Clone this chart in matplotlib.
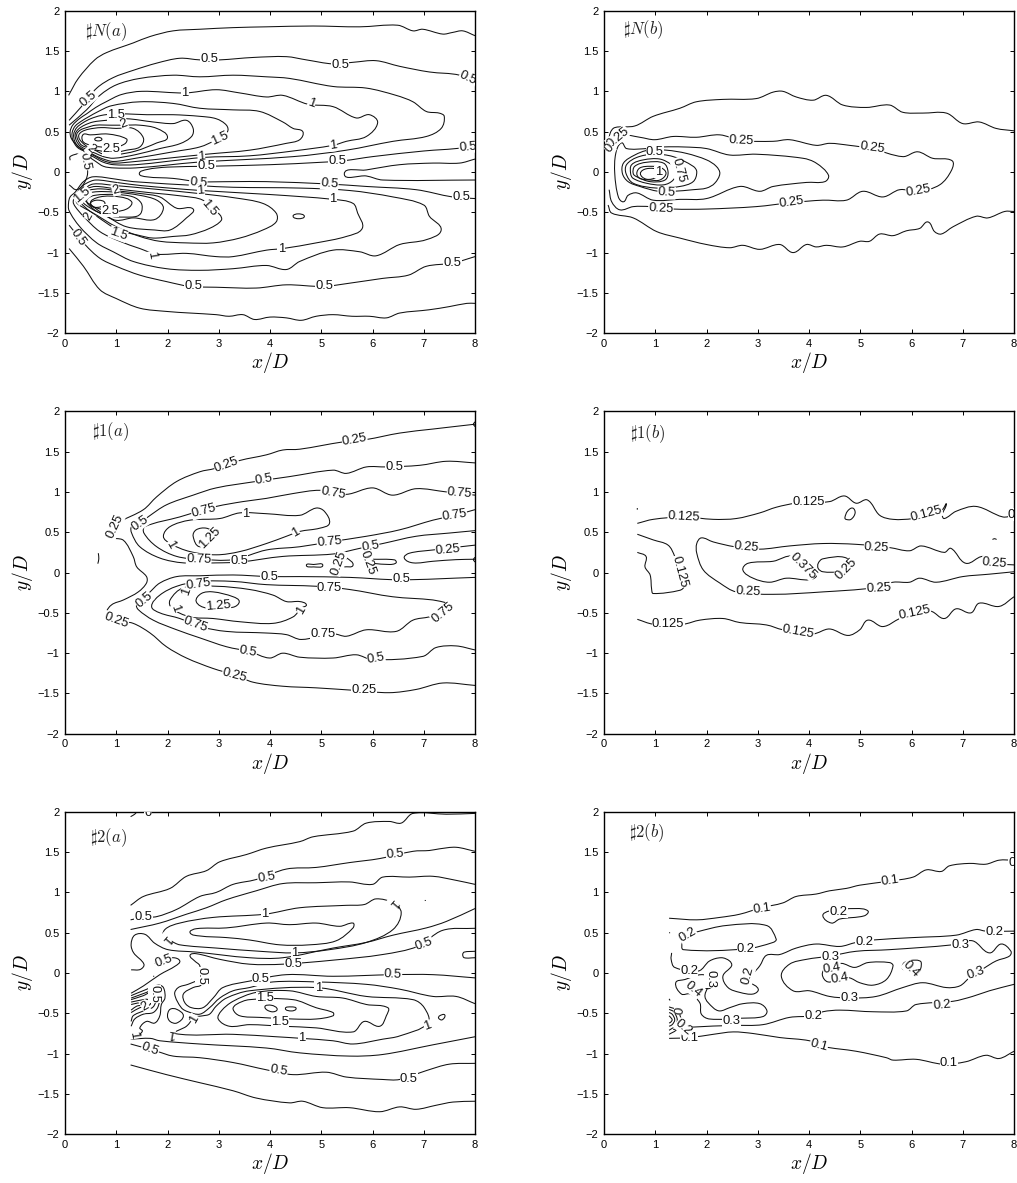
import matplotlib
matplotlib.use('Agg')
import matplotlib.pyplot as plt
from matplotlib.path import Path
from matplotlib.patches import PathPatch
import numpy as np

plt.rcParams['font.family'] = ['Liberation Sans', 'DejaVu Sans']
plt.rcParams['mathtext.fontset'] = 'cm'

X_TICKS = [0, 1, 2, 3, 4, 5, 6, 7, 8]
Y_TICKS = [-2, -1.5, -1, -0.5, 0, 0.5, 1, 1.5, 2]
Y_TICK_LABELS = ['\u22122', '\u22121.5', '\u22121', '\u22120.5', '0', '0.5', '1', '1.5', '2']

# ---- #N(a) contours as (x/D, y/D)
na_25_top = [(.07,.95),(.26,1.16),(.58,1.39),(.81,1.48),(1.33,1.6),(1.66,1.68),(2.11,1.75),(2.63,1.77),(3.28,1.79),(3.93,1.8),(4.84,1.81),(5.75,1.8),(6.49,1.82),(6.79,1.75),(6.98,1.77),(7.37,1.71),(7.56,1.73),(7.76,1.75),(8,1.69)]
na_25_bot = [(.08,-.95),(.36,-1.17),(.68,-1.46),(1,-1.57),(1.46,-1.69),(1.98,-1.73),(2.44,-1.75),(2.95,-1.77),(3.2,-1.79),(3.47,-1.77),(3.7,-1.83),(4,-1.8),(4.32,-1.81),(4.61,-1.84),(4.9,-1.79),(5.23,-1.77),(5.6,-1.79),(5.94,-1.79),(6.27,-1.81),(6.53,-1.75),(7.1,-1.71),(7.5,-1.67),(7.84,-1.63),(8,-1.63)]
na_50_top = [(.08,.64),(.32,.81),(.62,1.04),(.94,1.17),(1.33,1.26),(1.79,1.35),(2.24,1.41),(2.63,1.39),(3.02,1.39),(3.67,1.42),(4.32,1.43),(4.71,1.39),(5.23,1.34),(5.62,1.36),(6.07,1.38),(6.53,1.31),(7.11,1.24),(7.7,1.2),(8,1.1)]
na_50_bot = [(.08,-.66),(.39,-.9),(.68,-1.07),(1,-1.17),(1.46,-1.28),(1.98,-1.36),(2.44,-1.42),(2.95,-1.43),(3.73,-1.44),(4.32,-1.4),(5.03,-1.42),(5.55,-1.38),(6.2,-1.32),(6.7,-1.28),(7.05,-1.17),(7.57,-1.13),(8,-1.05)]
na_50_mid = [(8,.355),(7.75,.3),(7,.26),(6,.19),(5.45,.14),(5,.12),(4,.09),(2.76,.07),(2,.06),(1.6,.03),(1.45,-.02),(1.59,-.06),(2.11,-.08),(2.6,-.12),(3.28,-.12),(3.93,-.12),(5.16,-.15),(5.88,-.18),(6.85,-.22),(7.56,-.31),(8,-.33)]
na_tongue = [(8,.16),(7.7,.11),(7.18,.11),(6.53,.09),(5.88,.025),(5.45,-.025),(5.88,-.05),(6.2,-.1),(8,-.1)]
na_75_up = [(.08,.58),(.42,.77),(.68,.95),(1,1.08),(1.46,1.16),(2.11,1.2),(2.63,1.18),(3.28,1.2),(3.93,1.18),(4.38,1.16),(5.23,1.06),(5.88,1.04),(6.46,.95),(6.79,.87),(7.05,.75),(7.3,.73),(7.4,.69),(7.34,.54),(7.05,.44),(6.4,.38),(5.49,.27),(4.45,.19),(2.56,.12),(2,.085),(1.38,.05),(.95,.05),(.75,.07),(.6,.13),(.45,.2),(.33,.29)]
na_100_up = [(.22,.34),(.12,.42),(.1,.5),(.15,.58),(.28,.66),(.42,.72),(.6,.8),(.8,.87),(1.1,.96),(1.5,1),(2.34,.98),(2.95,1.02),(3.41,.98),(3.93,.93),(4.25,.95),(4.74,.84),(5.23,.81),(5.68,.67),(5.94,.71),(6.1,.61),(5.88,.44),(5.49,.38),(5.23,.33),(4.45,.26),(3.6,.2),(2.7,.18),(1.98,.13),(1.38,.09),(.95,.09),(.75,.12),(.6,.17),(.45,.23),(.22,.34)]
na_125_up = [(.25,.3),(.15,.4),(.14,.49),(.2,.57),(.32,.63),(.45,.68),(.65,.75),(.9,.82),(1.46,.87),(2.11,.85),(2.63,.79),(3.28,.77),(3.8,.75),(4.25,.62),(4.45,.54),(4.64,.5),(4.58,.4),(4.32,.355),(3.6,.27),(2.76,.22),(2,.17),(1.38,.13),(.95,.11),(.75,.14),(.6,.19),(.45,.24),(.25,.3)]
na_150_up = [(.28,.3),(.19,.38),(.17,.47),(.23,.55),(.35,.61),(.5,.66),(.7,.7),(.95,.72),(1.2,.72),(1.6,.71),(2.11,.71),(2.63,.69),(2.95,.66),(3.15,.58),(3.17,.5),(2.95,.4),(2.63,.31),(2.11,.25),(1.38,.17),(.95,.13),(.75,.16),(.6,.2),(.45,.25),(.28,.3)]
na_175_up = [(.3,.32),(.22,.39),(.2,.47),(.26,.53),(.38,.58),(.55,.62),(.8,.64),(1.2,.66),(1.72,.62),(2.11,.6),(2.37,.64),(2.5,.54),(2.47,.44),(2.24,.35),(1.85,.29),(1.38,.215),(.95,.17),(.75,.19),(.6,.23),(.45,.27),(.3,.32)]
na_200_up = [(.33,.33),(.25,.4),(.23,.47),(.3,.52),(.42,.55),(.6,.58),(.9,.58),(1.14,.58),(1.46,.58),(1.79,.54),(2,.43),(1.79,.36),(1.38,.26),(.95,.21),(.75,.22),(.55,.28),(.33,.33)]
na_225_up = [(.36,.35),(.28,.41),(.27,.46),(.33,.5),(.46,.53),(.7,.55),(1,.54),(1.33,.54),(1.53,.42),(1.46,.31),(1.2,.27),(.95,.24),(.7,.26),(.5,.29),(.36,.35)]
na_250_up = [(.36,.37),(.33,.43),(.37,.47),(.49,.46),(.84,.47),(1.2,.41),(1.17,.35),(.94,.3),(.7,.31),(.5,.33),(.36,.37)]
na_275_up = [(.58,.405),(.65,.43),(.72,.405),(.65,.385),(.58,.405)]
na_gap_a = [(.26,.23),(.1,.19),(.1,.145)]
na_gap_b = [(.32,.21),(.44,.02),(.39,-.12),(.23,-.22),(.08,-.16)]
na_75_lo = [(7,-.41),(6.4,-.31),(5.55,-.23),(4.58,-.2),(3.28,-.19),(2.63,-.17),(1.33,-.12),(1,-.09),(.55,-.06),(.36,-.12),(.2,-.25),(.1,-.31),(.07,-.38),(.08,-.48),(.29,-.68),(.62,-.88),(.94,-.99),(1.33,-1.11),(1.98,-1.2),(2.63,-1.22),(3.28,-1.2),(3.93,-1.16),(4.32,-1.21),(4.58,-1.11),(5.23,-.97),(5.75,-.99),(6.07,-1.04),(6.53,-.9),(7.05,-.84),(7.34,-.72),(7.11,-.55),(7,-.41)]
na_100_lo = [(5.23,-.34),(5.62,-.39),(5.71,-.51),(5.8,-.7),(5.49,-.8),(4.9,-.88),(4.25,-.95),(3.93,-.97),(3.28,-1.05),(2.95,-1.05),(2.37,-1.01),(1.79,-1.02),(1.46,-.95),(1.07,-.86),(.68,-.74),(.36,-.55),(.2,-.43),(.16,-.37),(.2,-.3),(.3,-.2),(.42,-.14),(.6,-.1),(1,-.13),(1.5,-.17),(2.65,-.23),(4,-.28),(5.23,-.34)]
na_125_lo = [(3.86,-.39),(4.12,-.51),(4.12,-.62),(3.86,-.72),(3.41,-.82),(2.89,-.88),(2.37,-.88),(1.85,-.86),(1.46,-.8),(1,-.68),(.55,-.51),(.3,-.42),(.22,-.37),(.26,-.29),(.36,-.22),(.55,-.15),(1,-.17),(1.7,-.21),(2.65,-.27),(3.3,-.32),(3.86,-.39)]
na_150_lo = [(2.69,-.35),(3.02,-.53),(3.05,-.6),(2.82,-.7),(2.44,-.78),(2.11,-.8),(1.72,-.82),(1.4,-.78),(1.04,-.72),(.62,-.55),(.38,-.43),(.28,-.35),(.32,-.27),(.42,-.21),(.6,-.18),(1,-.21),(1.7,-.26),(2.3,-.3),(2.69,-.35)]
na_175_lo = [(1.85,-.31),(2.18,-.45),(2.5,-.46),(2.37,-.57),(2.05,-.72),(1.75,-.72),(1.2,-.68),(.81,-.55),(.5,-.45),(.33,-.36),(.36,-.29),(.46,-.23),(.7,-.21),(1.1,-.24),(1.5,-.27),(1.85,-.31)]
na_200_lo = [(.97,-.25),(1.46,-.29),(1.79,-.35),(1.92,-.45),(1.75,-.59),(1.33,-.57),(1,-.6),(.75,-.52),(.55,-.43),(.39,-.35),(.41,-.3),(.55,-.25),(.97,-.25)]
na_225_lo = [(1,-.28),(1.33,-.31),(1.49,-.39),(1.49,-.5),(1.4,-.55),(1.15,-.56),(.9,-.55),(.65,-.5),(.45,-.4),(.43,-.34),(.58,-.29),(1,-.28)]
na_250_lo = [(.68,-.31),(1.07,-.31),(1.3,-.37),(1.23,-.45),(1,-.49),(.75,-.47),(.5,-.39),(.68,-.31)]
na_275_lo = [(.49,-.4),(.62,-.35),(.78,-.39),(.62,-.44),(.49,-.4)]
na_oval = [(4.45,-.55),(4.55,-.52),(4.67,-.55),(4.56,-.58),(4.45,-.55)]
na_labels = [(2.82,1.4,'0.5',0),(5.37,1.33,'0.5',0),(7.86,1.16,'0.5',-25),(.45,.91,'0.5',40),(2.34,.98,'1',0),(4.81,.85,'1',-20),(1,.71,'1.5',0),(1.15,.6,'2',20),(.91,.28,'2.5',0),(3.02,.42,'1.5',25),(2.66,.19,'1',5),(2.76,.07,'0.5',0),(5.23,.33,'1',8),(5.32,.13,'0.5',0),(7.86,.31,'0.5',5),(2.6,-.13,'0.5',-5),(5.16,-.15,'0.5',-5),(7.73,-.31,'0.5',0),(2.65,-.23,'1',5),(5.23,-.34,'1',0),(2.82,-.45,'1.5',-50),(.99,-.22,'2',15),(.88,-.48,'2.5',0),(.47,-.55,'2',60),(1.04,-.77,'1.5',-20),(1.69,-1.03,'1',-80),(4.22,-.95,'1',0),(.26,-.82,'0.5',-55),(2.51,-1.42,'0.5',0),(5.06,-1.42,'0.5',0),(7.56,-1.13,'0.5',0),(.39,.13,'0.5',-80),(.5,.29,'2',-40),(.34,-.29,'1.5',40)]

# ---- #N(b)
nb_out_top = [(.08,.31),(.12,.48),(.21,.55),(.6,.57),(.96,.69),(1.48,.79),(1.8,.87),(2.32,.9),(2.97,.91),(3.3,.99),(3.49,1),(3.75,.93),(4.08,.89),(4.34,.95),(4.66,.83),(5.12,.8),(5.57,.83),(5.83,.74),(6.22,.73),(6.68,.73),(7,.6),(7.32,.62),(7.65,.54),(8,.51)]
nb_out_bot = [(.08,-.41),(.15,-.51),(.57,-.57),(1.03,-.74),(1.48,-.82),(2,-.9),(2.45,-.94),(2.71,-.91),(3.04,-.96),(3.43,-.9),(3.69,-1),(3.95,-.9),(4.14,-.93),(4.34,-.91),(4.66,-.93),(4.99,-.86),(5.18,-.86),(5.38,-.77),(5.64,-.79),(5.9,-.73),(6.16,-.7),(6.32,-.62),(6.45,-.74),(6.58,-.77),(6.81,-.68),(7.26,-.55),(7.49,-.57),(7.82,-.49),(8,-.49)]
nb_25 = [(.08,.36),(.31,.46),(.7,.43),(.99,.4),(1.35,.44),(1.8,.43),(2.26,.46),(2.68,.39),(3.3,.38),(3.62,.4),(4.14,.33),(4.4,.355),(4.79,.33),(5.22,.29),(5.83,.19),(6.12,.25),(6.41,.17),(6.79,.14),(6.78,.02),(6.55,-.16),(6.14,-.24),(5.77,-.22),(5.44,-.31),(5.05,-.24),(4.73,-.35),(4.27,-.35),(3.66,-.38),(2.97,-.43),(2,-.46),(1.35,-.46),(.9,-.43),(.57,-.43),(.31,-.47),(.15,-.37),(.1,-.22)]
nb_375 = [(.21,-.02),(.23,.23),(.34,.36),(.44,.29),(.83,.29),(1.16,.31),(1.55,.31),(2,.29),(2.45,.21),(2.97,.22),(3.88,.17),(4.14,.11),(4.38,-.04),(4.31,-.12),(3.95,-.13),(3.3,-.18),(3.04,-.24),(2.65,-.18),(2,-.33),(1.48,-.34),(.96,-.35),(.64,-.26),(.47,-.29),(.38,-.37),(.28,-.31),(.21,-.02)]
nb_50 = [(1.22,.27),(1.61,.23),(2,.15),(2.19,.07),(2.26,-.02),(2.16,-.14),(2,-.2),(1.74,-.22),(1.35,-.24),(1.06,-.24),(.7,-.18),(.47,-.12),(.36,-.02),(.38,.11),(.6,.21),(.86,.27),(1.22,.27)]
nb_625 = [(1.35,.19),(1.74,.07),(1.81,0),(1.74,-.12),(1.48,-.18),(1.03,-.2),(.57,-.14),(.43,-.02),(.44,.09),(.64,.18),(.96,.22),(1.35,.19)]
nb_75 = [(.52,-.02),(.54,.09),(.77,.15),(1.09,.16),(1.32,.09),(1.42,.02),(1.35,-.1),(1.16,-.16),(.83,-.14),(.57,-.08),(.52,-.02)]
nb_875 = [(.57,-.02),(.6,.07),(.83,.12),(1.16,.11),(1.25,0),(1.19,-.1),(.9,-.12),(.64,-.06),(.57,-.02)]
nb_100 = [(.64,-.02),(.7,.05),(.9,.07),(1.12,.05),(1.21,-.02),(1.09,-.1),(.9,-.1),(.7,-.08),(.64,-.02)]
nb_inner = [(.71,-.02),(.83,.04),(1.06,.02),(1.03,-.06),(.83,-.09),(.71,-.02)]
nb_labels = [(.27,.43,'0.25',40),(.11,.29,'0',50),(2.68,.39,'0.25',-3),(5.23,.3,'0.25',-8),(6.14,-.24,'0.25',10),(3.66,-.38,'0.25',8),(1.11,-.46,'0.25',-3),(.99,.25,'0.5',0),(1.22,-.26,'0.5',-3),(1.45,.02,'0.75',-75),(1.06,0,'1',0)]

# ---- #1(a)
a1_25 = [(8,1.84),(7.18,1.78),(6.53,1.73),(5.88,1.65),(5.42,1.62),(4.58,1.53),(4.25,1.52),(3.93,1.46),(3.41,1.39),(2.92,1.29),(2.63,1.25),(2.18,1.13),(1.79,.94),(1.53,.78),(1.07,.63),(.97,.57),(.88,.45),(1.14,.4),(1.33,.2),(1.4,.07),(1.59,-.05),(1.59,-.13),(1.43,-.24),(1.14,-.34),(.91,-.4),(.82,-.5),(1,-.59),(1.33,-.63),(1.66,-.75),(1.98,-.92),(2.37,-1.06),(2.89,-1.19),(3.31,-1.27),(3.67,-1.36),(4.25,-1.41),(4.9,-1.43),(5.62,-1.46),(6.33,-1.49),(6.85,-1.45),(7.37,-1.37),(8,-1.4)]
a1_tick = [(.65,.24),(.66,.17),(.64,.11)]
a1_blob_a = [(8,1.87),(7.97,1.84),(8,1.81)]
a1_blob_b = [(8,.19),(7.97,.16),(8,.13)]
a1_50_top = [(8,1.36),(7.44,1.38),(6.92,1.33),(6.27,1.31),(5.88,1.31),(5.49,1.23),(5.23,1.27),(4.38,1.19),(3.73,1.13),(2.95,1.05),(2.5,.96),(1.98,.84),(1.62,.69),(1.46,.61),(1.3,.57),(1.3,.49),(1.46,.32),(1.85,.18),(2.31,.12),(2.95,.12),(3.41,.13),(4.25,.2),(5.23,.23),(5.75,.3),(6.2,.36),(6.85,.45),(7.5,.49),(8,.52)]
a1_75_top = [(8,.96),(7.44,1),(6.85,1.04),(6.39,.96),(6,1.05),(5.49,.97),(4.97,1.02),(4.45,.98),(3.93,.92),(3.47,.88),(2.95,.82),(2.5,.74),(2.24,.69),(1.56,.57),(1.54,.49),(1.79,.32),(2.18,.2),(2.63,.165),(3.28,.16),(3.93,.28),(4.58,.32),(5.16,.38),(5.88,.45),(6.53,.53),(7.18,.65),(7.6,.71),(8,.78)]
a1_100_top = [(1.92,.45),(2.05,.57),(2.44,.65),(3.02,.67),(3.41,.74),(3.93,.73),(4.58,.71),(4.9,.8),(5.06,.76),(5.16,.61),(4.97,.55),(4.58,.51),(4.32,.45),(3.93,.36),(3.41,.26),(2.95,.22),(2.44,.26),(2.05,.36),(1.92,.45)]
a1_125_top = [(2.5,.45),(2.56,.53),(2.76,.55),(2.89,.49),(2.82,.43),(2.63,.32),(2.5,.45)]
a1_oval = [(4.71,.09),(4.85,.1),(5.03,.09),(4.85,.07),(4.71,.09)]
a1_tri = [(5.48,.16),(5.5,.18),(5.62,.09),(5.45,.07)]
a1_tongue_a = [(6,.165),(6.43,.157),(6.46,.12),(6.33,.1),(6,.115)]
a1_tongue_b = [(8,.34),(7.18,.28),(6.72,.24),(6.62,.18),(6.79,.12),(7.18,.14),(7.63,.16),(8,.165)]
a1_50_bot = [(8,-.06),(6.53,-.09),(5.55,-.06),(4.58,-.05),(3.99,-.05),(3.28,-.03),(2.63,-.04),(2.18,-.05),(1.85,-.13),(1.66,-.24),(1.4,-.4),(1.43,-.46),(1.72,-.59),(2.18,-.71),(2.63,-.81),(3.15,-.92),(3.6,-.98),(3.99,-1.06),(4.25,-1),(4.58,-1.05),(5.23,-1.06),(5.68,-1.02),(6,-1.08),(6.98,-1.04),(7.24,-.93),(7.63,-.91),(8,-.96)]
a1_75_bot = [(7.47,-.38),(7.18,-.34),(6.39,-.3),(5.55,-.21),(4.9,-.17),(3.93,-.15),(3.28,-.11),(2.63,-.11),(2.18,-.17),(1.85,-.28),(1.69,-.42),(1.85,-.5),(2.24,-.57),(2.63,-.67),(3.15,-.73),(3.93,-.75),(4.32,-.77),(4.61,-.83),(5.23,-.76),(5.49,-.79),(5.88,-.71),(6.46,-.73),(6.79,-.59),(7.11,-.55),(7.37,-.5)]
a1_100_bot = [(2.31,-.19),(2.05,-.34),(2.08,-.44),(2.44,-.55),(2.89,-.57),(3.41,-.61),(4.06,-.63),(4.45,-.55),(4.61,-.44),(4.71,-.4),(4.58,-.36),(4.32,-.36),(4.06,-.28),(3.6,-.21),(2.95,-.17),(2.31,-.19)]
a1_125_bot = [(2.56,-.36),(2.66,-.26),(2.89,-.24),(3.28,-.3),(3.4,-.36),(3.28,-.43),(2.76,-.44),(2.56,-.36)]
a1_labels = [(.97,.57,'0.25',65),(1.46,.61,'0.5',35),(2.71,.76,'0.75',15),(3.52,.73,'1',0),(2.82,.43,'1.25',45),(2.05,.34,'1',-60),(4.51,.49,'1',30),(2.61,.165,'0.75',-2),(3.4,.14,'0.5',0),(5.16,.38,'0.75',5),(7.6,.71,'0.75',8),(7.7,.99,'0.75',-5),(5.23,.99,'0.75',-10),(3.88,1.15,'0.5',10),(6.43,1.31,'0.5',0),(3.15,1.34,'0.25',20),(5.65,1.65,'0.25',10),(7.47,.28,'0.25',5),(5.96,.32,'0.5',10),(5.91,.12,'0.25',-70),(5.34,.12,'0.25',70),(3.98,-.05,'0.5',0),(6.56,-.08,'0.5',0),(2.6,-.14,'0.75',8),(2.37,-.24,'1',70),(5.16,-.19,'0.75',0),(1.54,-.34,'0.5',40),(2.14,-.45,'1',-70),(2.99,-.42,'1.25',5),(4.61,-.47,'1',60),(7.37,-.5,'0.75',40),(2.55,-.65,'0.75',-20),(5.03,-.76,'0.75',0),(3.57,-.98,'0.5',-10),(6.07,-1.06,'0.5',10),(1,-.59,'0.25',-20),(3.31,-1.27,'0.25',-15),(5.84,-1.46,'0.25',0)]

# ---- #1(b)
b1_125_top = [(.65,.61),(.96,.66),(1.55,.69),(2.13,.66),(2.58,.67),(3.04,.74),(3.36,.81),(3.75,.86),(4.4,.88),(4.69,.95),(4.92,.86),(5.14,.9),(5.38,.71),(5.64,.66),(6.03,.67),(6.3,.72),(6.6,.78),(6.68,.85),(6.6,.72),(6.64,.67),(6.87,.76),(7.26,.82),(7.78,.69),(8,.71)]
b1_oval = [(4.7,.68),(4.75,.76),(4.85,.8),(4.9,.74),(4.82,.66),(4.72,.66),(4.7,.68)]
b1_dot_a = [(.65,.78),(.65,.8)]
b1_dot_b = [(7.58,.41),(7.62,.42),(7.66,.41)]
b1_125_left = [(.65,.475),(.96,.405),(1.25,.34),(1.38,.2),(1.47,.01),(1.56,-.17),(1.48,-.22),(.96,-.26),(.93,-.21),(.9,-.03),(.8,.07),(.82,.2),(.65,.25)]
b1_25_a = [(8,.095),(7.62,.115),(7.39,.2),(7.06,.115),(6.77,.3),(6.64,.25),(6.19,.33),(5.96,.27),(5.57,.31),(4.92,.35),(4.27,.36),(3.62,.33),(3.04,.29),(2.55,.32),(2.13,.38),(1.9,.43),(1.81,.36),(1.81,.24),(1.94,.03),(2.26,-.13),(2.58,-.24),(3.3,-.27),(4.27,-.24),(5.25,-.19),(5.64,-.12),(5.96,-.12),(6.16,-.07),(6.48,-.12),(7,-.05),(7.52,-.02),(8,.01)]
b1_375 = [(2.71,.03),(2.81,.115),(3.3,.14),(3.69,.2),(4.14,-.03),(4.01,-.09),(3.56,-.07),(3.23,-.12),(2.91,-.07),(2.71,.03)]
b1_25_b = [(4.18,.115),(4.27,.17),(4.73,.18),(4.73,.05),(4.6,.01),(4.27,.01),(4.18,.05),(4.18,.115)]
b1_125_bot = [(.65,-.58),(.96,-.64),(1.55,-.64),(1.87,-.59),(2.32,-.57),(2.65,-.62),(3.17,-.65),(3.49,-.71),(4.08,-.76),(4.4,-.7),(4.76,-.78),(4.99,-.71),(5.15,-.59),(5.44,-.67),(5.77,-.57),(6.06,-.5),(6.38,-.48),(6.64,-.57),(6.87,-.45),(7.16,-.5),(7.32,-.38),(7.71,-.42),(8,-.3)]
b1_labels = [(1.56,.69,'0.125',-3),(3.99,.87,'0.125',0),(6.29,.73,'0.125',15),(7.95,.72,'0',0),(1.47,.01,'0.125',-75),(1.25,-.64,'0.125',0),(3.79,-.74,'0.125',-10),(6.06,-.5,'0.125',12),(2.78,.32,'0.25',-5),(5.32,.31,'0.25',-3),(7.62,.115,'0.25',-5),(2.81,-.24,'0.25',-3),(5.36,-.19,'0.25',3),(3.88,.08,'0.375',-45),(4.73,.045,'0.25',45)]

# ---- #2(a)
a2_25_top = [(1.28,.84),(1.53,.95),(2.05,1.05),(2.37,1.2),(2.76,1.27),(3.02,1.38),(3.54,1.47),(3.93,1.55),(4.58,1.63),(4.84,1.69),(5.62,1.76),(5.88,1.86),(6.33,1.88),(6.56,1.86),(6.79,1.98),(7.44,1.97),(8,1.98)]
a2_stub = [(1.28,1.94),(1.36,1.97),(1.4,2)]
a2_50_top = [(1.28,.66),(1.53,.69),(1.79,.7),(2.18,.79),(2.63,.95),(2.95,1),(3.28,1.1),(3.73,1.16),(4.32,1.29),(4.9,1.31),(5.55,1.37),(6.14,1.42),(6.79,1.51),(7.11,1.52),(7.3,1.54),(7.63,1.56),(8,1.51)]
a2_75_top = [(1.28,.54),(1.85,.62),(2.37,.73),(2.76,.81),(3.15,.91),(3.73,1.02),(4.25,1.11),(4.9,1.12),(5.55,1.13),(6,1.1),(6.2,1.19),(6.72,1.19),(7.18,1.2),(7.63,1.15),(8,1.1)]
a2_100_top = [(1.92,.42),(1.95,.54),(2.24,.62),(2.89,.69),(3.9,.73),(4.58,.81),(5.49,.84),(5.84,.85),(6.07,.92),(6.4,.87),(6.56,.75),(6.4,.54),(5.88,.38),(5.16,.29),(4.48,.25),(3.8,.27),(2.95,.31),(2.24,.35),(2.05,.4),(1.92,.42)]
a2_125_top = [(2.44,.5),(2.56,.55),(3.15,.56),(3.93,.62),(4.38,.6),(4.9,.62),(5.36,.58),(5.62,.62),(5.62,.56),(5.29,.4),(4.77,.35),(4.19,.35),(3.6,.41),(3.15,.44),(2.63,.46),(2.44,.5)]
a2_75_blob = [(1.29,.04),(1.47,.045),(1.54,.11),(1.34,.25),(1.29,.355),(1.36,.47),(1.56,.48),(1.75,.37),(2.01,.29),(2.56,.26),(3.6,.19),(4.25,.19),(5.23,.31),(5.88,.38),(6.4,.47),(7.05,.56),(7.44,.64),(8,.8)]
a2_50_mid = [(8,.555),(7.37,.53),(6.88,.33),(6.2,.23),(5.23,.16),(4.25,.11),(3.6,.11),(3.02,.17),(2.56,.24),(2.44,.22),(2.53,.15),(2.63,.09),(2.66,-.14),(2.5,-.18),(2.31,-.26),(2.34,-.37),(2.47,-.43),(2.69,-.43),(2.89,-.31),(3.08,-.18),(3.6,-.1),(4.32,-.02),(5.23,-.04),(6.4,-.02),(7.18,-.02),(8,-.06)]
a2_75_lo = [(2.63,-.08),(2.4,-.14),(2.21,-.18),(2.14,-.26),(2.27,-.43),(2.4,-.48),(2.63,-.51),(2.82,-.43),(3.02,-.31),(3.28,-.22),(3.6,-.18),(4.06,-.11),(4.9,-.11),(5.88,-.14),(6.53,-.2),(7.18,-.29),(7.63,-.29),(8,-.38)]
a2_100_lo = [(2.14,-.75),(2.37,-.66),(2.53,-.55),(2.69,-.53),(2.82,-.51),(2.95,-.41),(3.15,-.31),(3.6,-.22),(4.9,-.18),(5.88,-.29),(6.79,-.33),(7.01,-.43),(7.08,-.62),(6.53,-.78),(6.2,-.82),(5.62,-.88),(5.23,-.84),(4.61,-.81),(4.12,-.79),(3.28,-.76),(2.14,-.75)]
a2_125_lo = [(2.99,-.57),(3.05,-.47),(3.28,-.35),(3.73,-.24),(4.38,-.22),(4.9,-.29),(5.42,-.31),(5.88,-.39),(6.3,-.43),(6.27,-.53),(6.14,-.66),(5.84,-.6),(5.62,-.73),(4.9,-.68),(4.25,-.66),(3.6,-.64),(3.21,-.66),(2.99,-.57)]
a2_150_lo = [(3.28,-.45),(3.34,-.39),(3.6,-.33),(4.45,-.33),(4.9,-.43),(5.23,-.49),(5.23,-.53),(4.9,-.57),(4.45,-.57),(3.8,-.55),(3.41,-.53),(3.28,-.45)]
a2_oval_a = [(3.9,-.42),(4.03,-.4),(4.14,-.45),(4.03,-.48),(3.9,-.42)]
a2_oval_b = [(4.3,-.44),(4.42,-.42),(4.51,-.44),(4.42,-.47),(4.3,-.44)]
a2_oval_c = [(7.31,-.53),(7.41,-.52),(7.36,-.58),(7.29,-.56),(7.31,-.53)]
a2_oval_d = [(8,.27),(7.79,.26),(7.76,.23),(7.79,.19),(8,.19)]
a2_oval_e = [(2,-.53),(2.05,-.45),(2.18,-.45),(2.31,-.53),(2.18,-.62),(2.05,-.6),(2,-.53)]
a2_dot_a = [(7.02,.9),(7.04,.9)]
a2_dot_b = [(1.72,-.04),(1.74,-.04)]
a2_fan_1 = [(1.29,-.28),(1.56,-.21),(1.82,-.15),(1.92,-.18),(1.95,-.31),(1.88,-.39),(1.85,-.53),(1.75,-.62),(1.59,-.6),(1.46,-.68),(1.51,-.72),(1.4,-.78),(1.29,-.8)]
a2_fan_0 = [(1.29,-.25),(1.53,-.16),(1.85,-.02),(2.16,.09),(2.24,.15),(2.11,.19),(1.92,.15),(1.75,.12)]
a2_fan_2 = [(1.29,-.31),(1.59,-.24),(1.75,-.2),(1.84,-.26),(1.82,-.41),(1.72,-.49),(1.53,-.51),(1.36,-.57),(1.29,-.66)]
a2_fan_3 = [(1.29,-.33),(1.53,-.28),(1.69,-.24),(1.77,-.31),(1.72,-.42),(1.53,-.47),(1.33,-.53),(1.29,-.6)]
a2_fan_4 = [(1.29,-.36),(1.53,-.33),(1.62,-.33),(1.66,-.39),(1.46,-.43),(1.29,-.49)]
a2_fan_5 = [(1.29,-.39),(1.46,-.37),(1.53,-.39),(1.4,-.41),(1.29,-.46)]
a2_75_bot = [(1.28,-.82),(1.66,-.81),(1.85,-.84),(2.63,-.88),(3.93,-.93),(4.58,-.99),(5.55,-1.03),(6.2,-1.01),(7.18,-.89),(8,-.79)]
a2_50_bot = [(1.28,-.88),(1.79,-.97),(2.11,-1.03),(2.63,-1.05),(3.28,-1.11),(3.93,-1.2),(4.45,-1.26),(5.1,-1.23),(5.49,-1.29),(6.2,-1.32),(6.53,-1.32),(7.05,-1.21),(7.5,-1.13),(8,-1.12)]
a2_25_bot = [(1.28,-1.14),(1.98,-1.26),(2.63,-1.36),(3.28,-1.46),(3.73,-1.55),(4.38,-1.61),(4.64,-1.59),(5.03,-1.67),(5.55,-1.67),(6.14,-1.72),(6.53,-1.66),(6.85,-1.69),(7.24,-1.64),(7.57,-1.6),(8,-1.59)]
a2_labels = [(1.53,.69,'0.5',0),(3.93,1.19,'0.5',10),(6.44,1.47,'0.5',5),(3.9,.73,'1',0),(6.4,.87,'1',-130),(1.98,.43,'1',-130),(4.48,.25,'1',0),(4.45,.11,'0.5',0),(7.01,.36,'0.5',20),(1.92,.15,'0.5',20),(2.66,-.04,'0.5',-90),(3.82,-.08,'0.5',0),(6.4,-.02,'0.5',-3),(4.94,-.18,'1',0),(3.9,-.31,'1.5',0),(4.19,-.61,'1.5',0),(2.53,-.57,'1',60),(2.08,-.75,'1',170),(4.62,-.81,'1',0),(7.08,-.66,'1',20),(1.66,-.95,'0.5',-20),(4.17,-1.21,'0.5',-10),(6.71,-1.31,'0.5',0),(1.34,-.77,'1',-80),(1.75,-.26,'0.5',-90),(1.56,-.41,'2',30),(1.62,1.98,'0',0)]

# ---- #2(b)
b2_10_top = [(1.27,.68),(1.81,.66),(2.26,.69),(2.65,.73),(3.07,.81),(3.49,.87),(3.75,.95),(4.14,.98),(4.4,1.02),(4.73,1.05),(4.99,1.09),(5.57,1.14),(6.03,1.19),(6.29,1.28),(6.58,1.26),(6.74,1.33),(7.13,1.36),(7.45,1.35),(7.71,1.4),(8,1.4)]
b2_10_bot = [(1.27,-.81),(1.68,-.8),(2.13,-.76),(2.52,-.73),(2.91,-.75),(3.43,-.8),(4.01,-.84),(4.27,-.91),(4.92,-.97),(5.51,-1.05),(5.64,-1.08),(6.09,-1.07),(6.61,-1.13),(7.06,-1.1),(7.45,-1.02),(7.71,-1.06),(8,-.97)]
b2_20_blob = [(1.53,.38),(1.64,.47),(1.81,.51),(2.39,.59),(3.17,.59),(3.36,.42),(3.3,.38),(2.77,.3),(1.55,.29),(1.53,.38)]
b2_20_oval = [(4.27,.71),(4.4,.77),(4.92,.8),(5.15,.77),(5.08,.71),(4.6,.67),(4.44,.62),(4.27,.71)]
b2_20_long = [(8,.52),(7.45,.52),(7.26,.54),(6.87,.47),(6.03,.44),(5.25,.41),(4.92,.38),(4.6,.33),(4.14,.36),(3.75,.31),(3.43,.23),(3.17,.22),(3.04,.09),(2.91,0),(2.81,-.03),(2.73,-.11),(2.84,-.12),(3.01,-.2),(2.91,-.26),(2.65,-.24),(2.42,-.18),(2.32,-.04),(2.49,.09),(2.45,.15),(2.29,.19),(2.06,.15),(1.84,.025),(1.38,.07),(1.31,.17),(1.32,.25)]
b2_20_bot = [(8,-.14),(7.52,-.22),(7.19,-.29),(6.81,-.35),(6.09,-.39),(5.9,-.47),(5.25,-.48),(4.6,-.46),(4.27,-.48),(4.08,-.53),(3.62,-.55),(3.1,-.64),(2.52,-.65),(1.74,-.67),(1.35,-.7)]
b2_30_long = [(3.46,-.04),(3.62,.11),(3.95,.17),(4.4,.21),(4.92,.27),(5.57,.29),(6.8,.35),(7.19,.4),(7.52,.25),(7.75,.36),(7.94,.27),(7.91,.21),(7.65,.15),(7.39,.05),(7.13,-.06),(6.94,-.16),(6.68,-.18),(6.22,-.12),(5.83,-.18),(5.31,-.29),(4.79,-.31),(4.4,-.29),(4.01,-.22),(3.69,-.22),(3.46,-.04)]
b2_40_mid = [(4.63,.12),(4.89,.07),(5.15,.13),(5.57,.13),(5.64,.09),(5.51,-.08),(5.25,-.15),(4.99,-.12),(4.79,-.06),(4.6,-.07),(4.37,-.11),(4.26,-.02),(4.34,.07),(4.63,.12)]
b2_40_right = [(5.86,.13),(6.09,.16),(6.19,.13),(6.12,0),(5.99,.05),(5.83,.05),(5.86,.13)]
b2_30_left = [(1.4,-.12),(1.58,-.08),(1.9,-.02),(2.08,-.07),(1.97,-.29),(2.13,-.43),(2.26,-.47),(2.45,-.43),(2.71,-.38),(3.04,-.38),(3.18,-.47),(3.1,-.54),(2.68,-.56),(2.06,-.57),(1.9,-.51),(1.87,-.37),(1.68,-.26),(1.51,-.26),(1.4,-.12)]
b2_40_small = [(1.98,-.18),(2.04,-.12),(2.12,-.14),(2.06,-.19),(1.98,-.18)]
b2_arc_1 = [(1.27,-.53),(1.3,-.55),(1.33,-.58),(1.3,-.61),(1.27,-.62)]
b2_arc_2 = [(1.27,-.49),(1.33,-.51),(1.38,-.58),(1.33,-.64),(1.27,-.66)]
b2_arc_3 = [(1.27,-.45),(1.36,-.48),(1.43,-.58),(1.38,-.66),(1.27,-.71)]
b2_arc_4 = [(1.27,-.42),(1.42,-.46),(1.5,-.58),(1.42,-.7),(1.27,-.76)]
b2_dot_a = [(1.27,-.32),(1.29,-.34)]
b2_dot_b = [(1.27,.5),(1.29,.5)]
b2_labels = [(3.08,.8,'0.1',8),(5.58,1.15,'0.1',8),(7.96,1.37,'0',0),(4.58,.76,'0.2',0),(1.64,.47,'0.2',30),(2.77,.3,'0.2',0),(5.08,.38,'0.2',0),(7.62,.51,'0.2',0),(4.42,.2,'0.3',0),(6.95,.35,'0.3',0),(7.25,0,'0.3',20),(4.79,-.31,'0.3',0),(2.49,-.6,'0.3',0),(4.45,.06,'0.4',10),(4.6,-.07,'0.4',10),(5.99,.05,'0.4',-45),(1.66,.02,'0.2',0),(2.81,-.03,'0.2',75),(2.08,-.07,'0.3',-90),(1.74,-.2,'0.4',-40),(4.08,-.53,'0.2',0),(6.59,-.4,'0.2',5),(1.66,-.81,'0.1',0),(4.19,-.9,'0.1',-15),(6.73,-1.12,'0.1',0),(1.48,-.47,'0',80),(1.55,-.68,'0.2',-40)]

na_lines = [na_25_top, na_25_bot, na_50_top, na_50_bot, na_50_mid, na_tongue, na_75_up, na_100_up, na_125_up, na_150_up,
            na_175_up, na_200_up, na_225_up, na_250_up, na_275_up, na_gap_a, na_gap_b, na_75_lo, na_100_lo, na_125_lo,
            na_150_lo, na_175_lo, na_200_lo, na_225_lo, na_250_lo, na_275_lo, na_oval]
nb_lines = [nb_out_top, nb_out_bot, nb_25, nb_375, nb_50, nb_625, nb_75, nb_875, nb_100, nb_inner]
a1_lines = [a1_25, a1_tick, a1_blob_a, a1_blob_b, a1_50_top, a1_75_top, a1_100_top, a1_125_top, a1_oval, a1_tri,
            a1_tongue_a, a1_tongue_b, a1_50_bot, a1_75_bot, a1_100_bot, a1_125_bot]
b1_lines = [b1_125_top, b1_oval, b1_dot_a, b1_dot_b, b1_125_left, b1_25_a, b1_375, b1_25_b, b1_125_bot]
a2_lines = [a2_25_top, a2_stub, a2_50_top, a2_75_top, a2_100_top, a2_125_top, a2_75_blob, a2_50_mid, a2_75_lo, a2_100_lo,
            a2_125_lo, a2_150_lo, a2_oval_a, a2_oval_b, a2_oval_c, a2_oval_d, a2_oval_e, a2_dot_a, a2_dot_b, a2_fan_0,
            a2_fan_1, a2_fan_2, a2_fan_3, a2_fan_4, a2_fan_5, a2_75_bot, a2_50_bot, a2_25_bot]
b2_lines = [b2_10_top, b2_10_bot, b2_20_blob, b2_20_oval, b2_20_long, b2_20_bot, b2_30_long, b2_40_mid, b2_40_right,
            b2_30_left, b2_40_small, b2_arc_1, b2_arc_2, b2_arc_3, b2_arc_4, b2_dot_a, b2_dot_b]

W, H = 1017, 1183
fig = plt.figure(figsize=(W / 100, H / 100), dpi=100)


def curve_path(pts):
    # bezier path through the read points, so the contours do not look like polygons
    p = np.array(pts, dtype=float)
    n = len(p)
    closed = n > 3 and np.allclose(p[0], p[-1])
    scale = np.array([1.0, 1.6])  # a unit of y is longer on screen than a unit of x
    tang = np.zeros_like(p)
    for i in range(n):
        if closed:
            a, b = p[(i - 1) % (n - 1)], p[(i + 1) % (n - 1)]
        else:
            a, b = p[max(i - 1, 0)], p[min(i + 1, n - 1)]
        d = (b - a) * scale
        tang[i] = d / max(np.hypot(*d), 1e-9)
    verts = [p[0]]
    codes = [Path.MOVETO]
    for i in range(n - 1):
        seg = np.hypot(*((p[i + 1] - p[i]) * scale)) / 3
        verts += [p[i] + tang[i] * seg / scale, p[i + 1] - tang[i + 1] * seg / scale, p[i + 1]]
        codes += [Path.CURVE4] * 3
    return Path(verts, codes)


def panel(left, top, name, name_x, name_y, lines, labels):
    # box given in pixels of the reference
    ax = fig.add_axes([left / W, 1 - (top + 322.5) / H, 410 / W, 322.5 / H])
    for pts in lines:
        ax.add_patch(PathPatch(curve_path(pts), fc='none', ec='#111111', lw=0.75))
    for x, y, txt, rot in labels:
        ax.text(x, y, txt, fontsize=9.4, rotation=rot, ha='center', va='center', color='#111111',
                rotation_mode='anchor', clip_on=True,
                bbox=dict(boxstyle='square,pad=0.02', fc='white', ec='none'))
    ax.text(name_x, name_y, name, fontsize=12, ha='left', va='center', color='#222222')
    ax.set_xlim(0, 8)
    ax.set_ylim(-2, 2)
    ax.set_xticks(X_TICKS)
    ax.set_yticks(Y_TICKS)
    ax.set_yticklabels(Y_TICK_LABELS)
    ax.tick_params(direction='in', top=True, right=True, length=3, width=0.7, labelsize=8, pad=4)
    for s in ax.spines.values():
        s.set_linewidth(1.0)
    ax.set_xlabel('$x/D$', fontsize=14, labelpad=1)
    ax.set_ylabel('$y/D$', fontsize=14, labelpad=2)
    return ax


panel(65, 10.7, r'$\sharp N(a)$', .39, 1.74, na_lines, na_labels)
panel(604, 10.7, r'$\sharp N(b)$', .38, 1.77, nb_lines, nb_labels)
panel(65, 411.3, r'$\sharp 1(a)$', .52, 1.75, a1_lines, a1_labels)
panel(604, 411.3, r'$\sharp 1(b)$', .5, 1.72, b1_lines, b1_labels)
panel(65, 811.8, r'$\sharp 2(a)$', .49, 1.68, a2_lines, a2_labels)
panel(604, 811.8, r'$\sharp 2(b)$', .49, 1.74, b2_lines, b2_labels)

fig.savefig('out.png', dpi=100)
